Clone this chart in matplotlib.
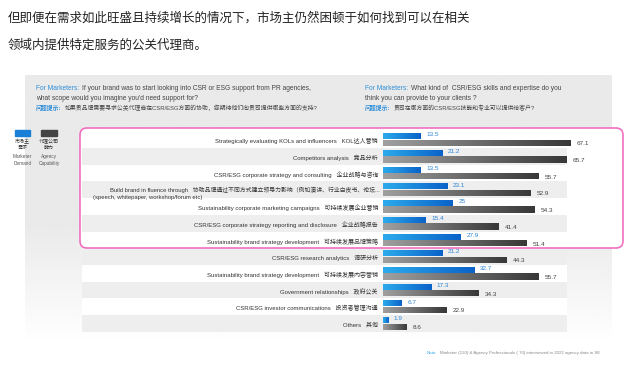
import numpy as np
import matplotlib
matplotlib.use("Agg")
import matplotlib.pyplot as plt
from matplotlib.patches import FancyBboxPatch, Rectangle
from matplotlib.transforms import blended_transform_factory
from matplotlib.colors import LinearSegmentedColormap

plt.rcParams["font.family"] = ["Liberation Sans", "Noto Sans CJK SC", "DejaVu Sans"]

# data
labels_en = [
    "Strategically evaluating KOLs and influencers",
    "Competitors analysis",
    "CSR/ESG corporate strategy and consulting",
    "Build brand in fluence through",
    "Sustainability corporate marketing campaigns",
    "CSR/ESG corporate strategy reporting and disclosure",
    "Sustainability brand strategy development",
    "CSR/ESG research analytics",
    "Sustainability brand strategy development",
    "Government relationships",
    "CSR/ESG investor communications",
    "Others",
]
labels_cn = [
    "KOL达人营销",
    "竞品分析",
    "企业战略与咨询",
    "协助品牌通过不同方式建立领导力影响（例如演讲、行业白皮书、论坛...",
    "可持续发展企业营销",
    "企业战略报告",
    "可持续发展品牌策略",
    "调研分析",
    "可持续发展内容营销",
    "政府公关",
    "投资者管理沟通",
    "其他",
]
marketer_demand = [13.5, 21.2, 13.5, 23.1, 25, 15.4, 27.9, 21.2, 32.7, 17.3, 6.7, 1.9]
agency_capability = [67.1, 65.7, 55.7, 52.9, 54.3, 41.4, 51.4, 44.3, 55.7, 34.3, 22.9, 8.6]

W, H = 640, 367
fig = plt.figure(figsize=(W / 100, H / 100), dpi=100)
fig.patch.set_facecolor("white")

# background axes in pixel units for the page decoration
bg = fig.add_axes([0, 0, 1, 1])
bg.set_xlim(0, W)
bg.set_ylim(H, 0)
bg.axis("off")

# top paragraph
cjk = ["Noto Sans CJK SC", "DejaVu Sans"]
bg.text(8, 18, "但即便在需求如此旺盛且持续增长的情况下，市场主仍然困顿于如何找到可以在相关",
        fontsize=9, color="#222222", va="center", family=cjk)
bg.text(8, 45, "领域内提供特定服务的公关代理商。",
        fontsize=9, color="#222222", va="center", family=cjk)

# grey panel with soft vertical fade
grad = np.linspace(0, 1, 200)[:, None]
panel_vals = 0.915 + 0.085 * np.clip((grad - 0.55) / 0.45, 0, 1)
panel_vals = np.repeat(panel_vals, 2, axis=1)
bg.imshow(panel_vals, cmap="gray", vmin=0, vmax=1, extent=(25, 612, 345, 75),
          aspect="auto", zorder=0, interpolation="bilinear")
bg.set_xlim(0, W)
bg.set_ylim(H, 0)

HF = 4.8
HF_CN = 4.2


def header(x, y, prefix, rest, size, bold=False):
    t = bg.text(x, y, prefix, color="#2f8fd8", fontsize=size, va="center",
                weight="bold" if bold else "normal")
    bg.annotate(rest, xy=(1, 0.5), xycoords=t, xytext=(2, 0), textcoords="offset points",
                fontsize=size, color="#444444", va="center")


# question headers
header(36, 89, "For Marketers:", "If your brand was to start looking into CSR or ESG support from PR agencies,", HF)
bg.text(36, 98.5, "what scope would you imagine you'd need support for?", fontsize=HF,
        color="#444444", va="center")
header(36, 108, "问题提示:", "如果贵品牌需要寻求公关代理商在CSR/ESG方面的协助，您期待他们向贵司提供哪些方面的支持?", HF_CN, True)

header(365, 89, "For Marketers:", "What kind of  CSR/ESG skills and expertise do you", HF)
bg.text(365, 98.5, "think you can provide to your clients ?", fontsize=HF,
        color="#444444", va="center")
header(365, 108, "问题提示:", "贵司在哪方面的CSR/ESG技能和专业可以提供给客户?", HF_CN, True)

# legend
bg.add_patch(Rectangle((15, 130), 15, 6, color="#1a7fd6"))
bg.add_patch(Rectangle((41, 130), 16, 6, color="#444444"))
bg.text(22.5, 144.5, "市场主\n需求", fontsize=3.6, ha="center", va="center", color="#333333",
        linespacing=1.4)
bg.text(49, 144.5, "代理公司\n能力", fontsize=3.6, ha="center", va="center", color="#333333",
        linespacing=1.4)
bg.text(22.5, 160, "Marketer\nDemand", fontsize=3.4, ha="center", va="center", color="#555555",
        linespacing=1.5)
bg.text(49, 160, "Agency\nCapability", fontsize=3.4, ha="center", va="center", color="#555555",
        linespacing=1.5)

# white box behind highlighted rows
bg.add_patch(FancyBboxPatch((80, 128), 543, 120, boxstyle="round,pad=0,rounding_size=7",
                            facecolor="white", edgecolor="none", zorder=1))

# note
nt = bg.text(427, 353, "Note:", fontsize=3.2, color="#3aa8e8", va="center")
bg.annotate("Marketer (120) & Agency Professionals ( 70) interviewed in 2022 agency data in SE",
            xy=(1, 0.5), xycoords=nt, xytext=(2, 0), textcoords="offset points",
            fontsize=3.2, color="#888888", va="center")

# bar axes: 2.79 px per percentage point, row pitch 16.73 px
n = len(marketer_demand)
pitch = 16.73
top_px = 139.5 - pitch / 2
bottom_px = 139.5 + pitch * (n - 0.5)
ax = fig.add_axes([383 / W, 1 - bottom_px / H, 80 * 2.79 / W, (bottom_px - top_px) / H])
ax.set_zorder(2)
ax.patch.set_visible(False)
ax.axis("off")

rows = np.arange(n)
blue_cmap = LinearSegmentedColormap.from_list("b", ["#2cabec", "#0a62c9"])
gray_cmap = LinearSegmentedColormap.from_list("g", ["#a0a0a0", "#383838"])

mix = blended_transform_factory(bg.transData, ax.transData)

# row stripes
for i in rows:
    face = "white" if i % 2 == 0 else "#eeeeee"
    ax.add_patch(Rectangle((82, i - 0.5), 485, 1, transform=mix, facecolor=face,
                           edgecolor="none", zorder=0, clip_on=False))

b_blue = ax.barh(rows - 0.2, marketer_demand, height=0.36, color="none", zorder=3)
b_gray = ax.barh(rows + 0.19, agency_capability, height=0.38, color="none", zorder=3)

ramp = np.linspace(0, 1, 256)[None, :]
for bars, vals, cmap in [(b_blue, marketer_demand, blue_cmap), (b_gray, agency_capability, gray_cmap)]:
    for bar, v in zip(bars, vals):
        y0 = bar.get_y()
        im = ax.imshow(ramp, cmap=cmap, aspect="auto", zorder=3,
                       extent=(0, v, y0 + bar.get_height(), y0))
        im.set_clip_path(bar)

for i, (d, c) in enumerate(zip(marketer_demand, agency_capability)):
    ax.text(d + 2.0, i - 0.28, f"{d:g}", fontsize=4.6, color="#2a86d8", va="center", zorder=4)
    ax.text(c + 2.2, i + 0.25, f"{c:g}", fontsize=4.6, color="#444444", va="center", zorder=4)

# category labels
for i, (en, cn) in enumerate(zip(labels_en, labels_cn)):
    if i == 3:
        ax.text(380, i + 0.02, en + "   " + cn, transform=mix, ha="right", va="center",
                fontsize=4.2, color="#333333", clip_on=False, zorder=4)
        ax.text(93, i + 0.44, "(speech, whitepaper, workshop/forum etc)", transform=mix,
                ha="left", va="center", fontsize=4.2, color="#333333", clip_on=False, zorder=4)
    else:
        ax.text(378, i + 0.1, en + "   " + cn, transform=mix, ha="right", va="center",
                fontsize=4.3, color="#333333", clip_on=False, zorder=4)

# pink highlight border
ax.add_patch(FancyBboxPatch((80, 128), 543, 120, boxstyle="round,pad=0,rounding_size=7",
                            transform=bg.transData, facecolor="none", edgecolor="#f070bf",
                            linewidth=1.2, zorder=5, clip_on=False))

ax.set_xlim(0, 80)
ax.set_ylim(n - 0.5, -0.5)

fig.savefig("out.png", dpi=100)
